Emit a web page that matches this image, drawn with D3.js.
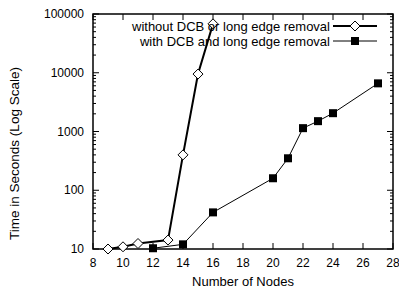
<!DOCTYPE html>
<html lang="en">
<head>
<meta charset="UTF-8">
<title>nodes vs time</title>
<style>
  body { margin: 0; background: #fff; }
  text { font-family: "Liberation Sans", Arial, sans-serif; fill: #000; }
</style>
</head>
<body>
<svg id="chart"></svg>
<script src="https://cdn.jsdelivr.net/npm/d3@7/dist/d3.min.js"></script>
<script>
// data
const xTicks = [8, 10, 12, 14, 16, 18, 20, 22, 24, 26, 28];
const yTicks = [10, 100, 1000, 10000, 100000];

const withoutNodes = [9, 10, 11, 13, 14, 15, 16];
const withoutTime = [10, 10.9, 12.4, 14.2, 400, 9500, 68000];

const withNodes = [12, 14, 16, 20, 21, 22, 23, 24, 27];
const withTime = [10.3, 12, 42, 160, 350, 1140, 1500, 2050, 6600];

const labels = ['without DCB or long edge removal', 'with DCB and long edge removal'];

const width = 399, height = 292;
const margin = { left: 93, right: 6, top: 14, bottom: 43 };

const svg = d3.select('#chart')
  .attr('width', width)
  .attr('height', height);

const x = d3.scaleLinear().domain([8, 28]).range([margin.left, width - margin.right]);
const y = d3.scaleLog().domain([10, 100000]).range([height - margin.bottom, margin.top]);

// minor ticks for log axis
const minor = [];
for (let d = 10; d < 100000; d *= 10) {
  for (let k = 2; k <= 9; k++) minor.push(d * k);
}

const g = svg.append('g');

// ticks (inward, mirrored)
const tickG = g.append('g').attr('stroke', '#000').attr('stroke-width', 1);
xTicks.forEach(t => {
  tickG.append('line').attr('x1', x(t)).attr('x2', x(t))
    .attr('y1', y(10)).attr('y2', y(10) - 6);
  tickG.append('line').attr('x1', x(t)).attr('x2', x(t))
    .attr('y1', y(100000)).attr('y2', y(100000) + 6);
});
yTicks.forEach(t => {
  tickG.append('line').attr('x1', x(8)).attr('x2', x(8) + 6)
    .attr('y1', y(t)).attr('y2', y(t));
  tickG.append('line').attr('x1', x(28)).attr('x2', x(28) - 6)
    .attr('y1', y(t)).attr('y2', y(t));
});
minor.forEach(t => {
  tickG.append('line').attr('x1', x(8)).attr('x2', x(8) + 3)
    .attr('y1', y(t)).attr('y2', y(t));
  tickG.append('line').attr('x1', x(28)).attr('x2', x(28) - 3)
    .attr('y1', y(t)).attr('y2', y(t));
});

// frame
g.append('rect')
  .attr('x', x(8)).attr('y', y(100000))
  .attr('width', x(28) - x(8)).attr('height', y(10) - y(100000))
  .attr('fill', 'none').attr('stroke', '#000').attr('stroke-width', 1.5);

// tick labels
g.selectAll('.xl').data(xTicks).enter().append('text')
  .attr('x', d => x(d)).attr('y', y(10) + 18)
  .attr('text-anchor', 'middle').attr('font-size', 12)
  .text(d => d);
g.selectAll('.yl').data(yTicks).enter().append('text')
  .attr('x', x(8) - 9).attr('y', d => y(d) + 4)
  .attr('text-anchor', 'end').attr('font-size', 12)
  .text(d => d);

// axis titles
g.append('text')
  .attr('x', (x(8) + x(28)) / 2).attr('y', height - 6)
  .attr('text-anchor', 'middle').attr('font-size', 13)
  .text('Number of Nodes');
g.append('text')
  .attr('transform', `translate(19, ${(y(10) + y(100000)) / 2 + 22}) rotate(-90)`)
  .attr('text-anchor', 'middle').attr('font-size', 13.5)
  .text('Time in Seconds (Log Scale)');

const line = d3.line().x(d => x(d[0])).y(d => y(d[1]));
const s1 = withoutNodes.map((n, i) => [n, withoutTime[i]]);
const s2 = withNodes.map((n, i) => [n, withTime[i]]);

const diamond = (cx, cy, r) => `M${cx},${cy - r}L${cx + r},${cy}L${cx},${cy + r}L${cx - r},${cy}Z`;

// series 2 (squares)
g.append('path').attr('d', line(s2))
  .attr('fill', 'none').attr('stroke', '#000').attr('stroke-width', 1);
g.selectAll('.sq').data(s2).enter().append('rect')
  .attr('x', d => x(d[0]) - 4).attr('y', d => y(d[1]) - 4)
  .attr('width', 8).attr('height', 8).attr('fill', '#000');

// series 1 (diamonds)
g.append('path').attr('d', line(s1))
  .attr('fill', 'none').attr('stroke', '#000').attr('stroke-width', 2);
g.selectAll('.dm').data(s1).enter().append('path')
  .attr('d', d => diamond(x(d[0]), y(d[1]), 5))
  .attr('fill', '#fff').attr('stroke', '#000').attr('stroke-width', 1);

// legend
const legX = 330, legY = [26, 41];
labels.forEach((lab, i) => {
  const ly = legY[i];
  g.append('text').attr('x', legX).attr('y', ly + 4.5)
    .attr('text-anchor', 'end').attr('font-size', 13).text(lab);
  g.append('line').attr('x1', legX + 3).attr('x2', legX + 47)
    .attr('y1', ly).attr('y2', ly)
    .attr('stroke', '#000').attr('stroke-width', i === 0 ? 2 : 1);
  if (i === 0) {
    g.append('path').attr('d', diamond(legX + 25, ly, 5))
      .attr('fill', '#fff').attr('stroke', '#000').attr('stroke-width', 1);
  } else {
    g.append('rect').attr('x', legX + 21).attr('y', ly - 4)
      .attr('width', 8).attr('height', 8).attr('fill', '#000');
  }
});
</script>
</body>
</html>
